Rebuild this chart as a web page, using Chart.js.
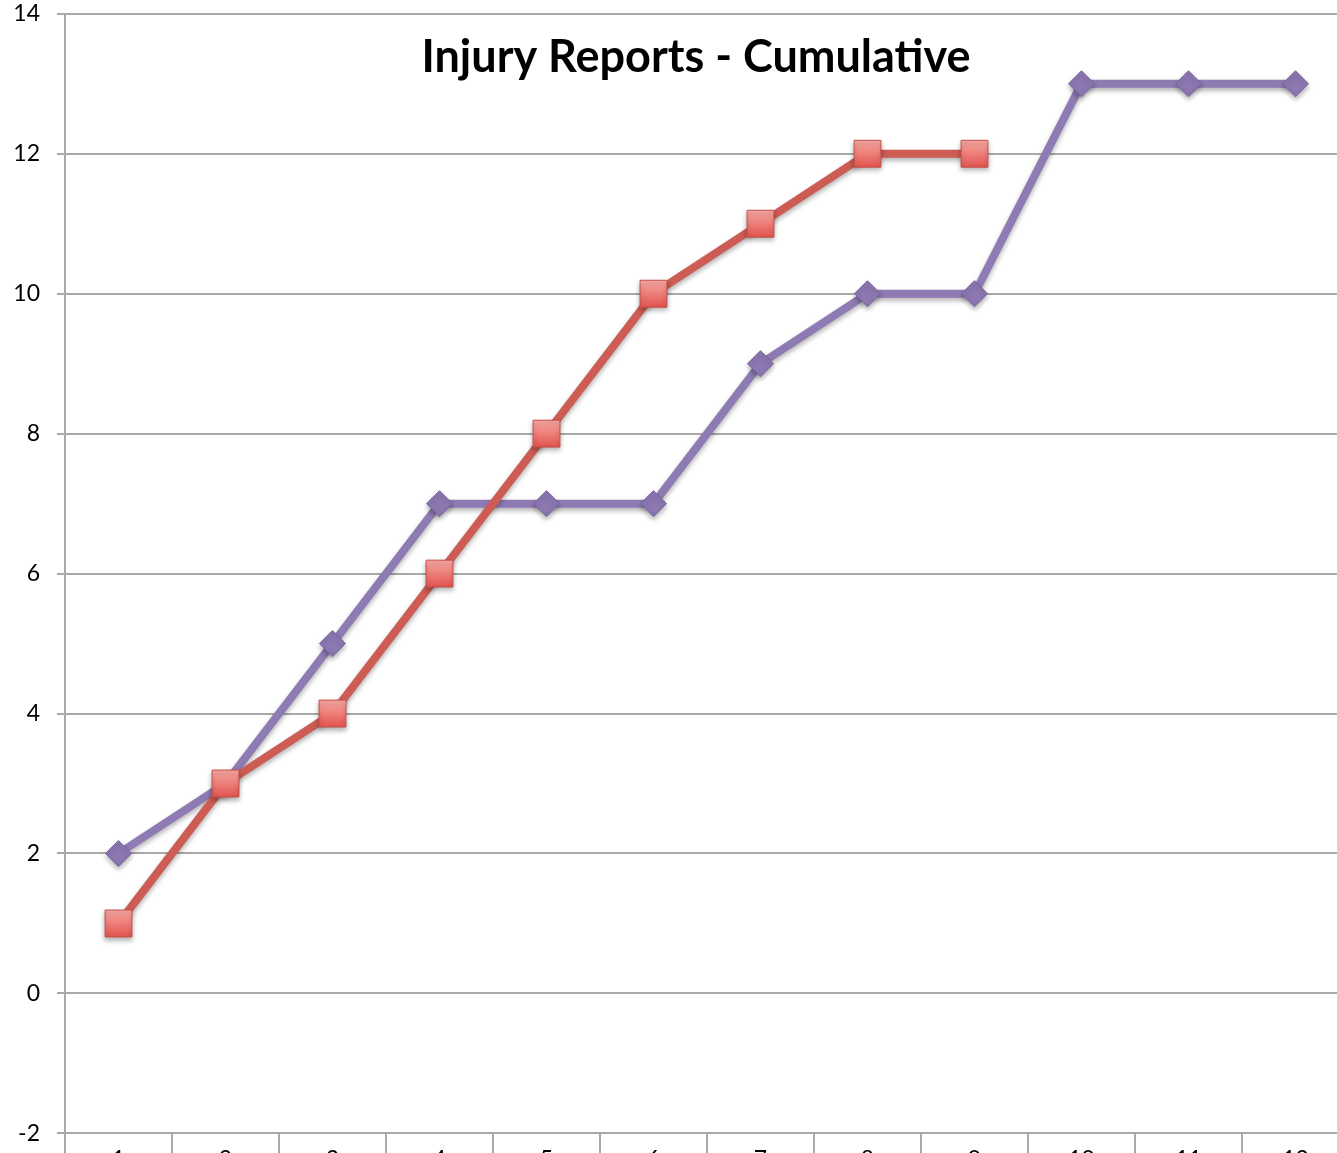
<!DOCTYPE html>
<html lang="en">
<head>
    <meta charset="UTF-8">
    <title>Injury Reports - Cumulative</title>
    <style>
        html, body {
            margin: 0;
            padding: 0;
            background: #fff;
            overflow: hidden;
        }
        #wrap {
            position: relative;
            width: 1337px;
            height: 1153px;
            overflow: hidden;
        }
        #injuryChart {
            position: absolute;
            left: 0;
            top: 0;
        }
    </style>
</head>
<body>
    <div id="wrap"><canvas id="injuryChart" width="1400" height="1200"></canvas></div>

    <script src="https://cdn.jsdelivr.net/npm/chart.js"></script>
    <script>
        const weeks = ['1', '2', '3', '4', '5', '6', '7', '8', '9', '10', '11', '12'];
        const redSeries = [1, 3, 4, 6, 8, 10, 11, 12, 12, null, null, null];
        const purpleSeries = [2, 3, 5, 7, 7, 7, 9, 10, 10, 13, 13, 13];
        const chartTitle = 'Injury Reports - Cumulative';

        const gridGray = '#a9a9a9';
        const labelFont = { family: 'Lato, "Open Sans", sans-serif', size: 23 };

        // the original is a cropped screenshot: plot area box on the page
        const plotLeft = 65, plotTop = 14, plotW = 1284, plotH = 1120;

        // title sits inside the plot area, so it's drawn by hand
        const titlePlugin = {
            id: 'insideTitle',
            afterDraw(chart) {
                const ctx = chart.ctx;
                const a = chart.chartArea;
                ctx.save();
                ctx.font = 'bold 45px Lato, "Open Sans", sans-serif';
                ctx.fillStyle = '#000';
                ctx.textAlign = 'center';
                ctx.textBaseline = 'alphabetic';
                ctx.fillText(chartTitle, a.left + 631, a.top + 58);
                ctx.restore();
            }
        };

        // soft drop shadow under lines and markers
        const shadowPlugin = {
            id: 'shadow',
            beforeDatasetDraw(chart) {
                const ctx = chart.ctx;
                ctx.save();
                ctx.shadowColor = 'rgba(0,0,0,0.3)';
                ctx.shadowBlur = 5;
                ctx.shadowOffsetY = 3;
            },
            afterDatasetDraw(chart) {
                chart.ctx.restore();
            }
        };

        // pinkish top-to-bottom shading on the square markers
        function squareFill(context) {
            const chart = context.chart;
            const y = chart.scales && chart.scales.y;
            if (!y || context.raw == null) return '#ef7d76';
            const py = y.getPixelForValue(context.raw);
            if (!isFinite(py)) return '#ef7d76';
            const g = chart.ctx.createLinearGradient(0, py - 13, 0, py + 13);
            g.addColorStop(0, '#f8a7a2');
            g.addColorStop(1, '#e3554f');
            return g;
        }

        const canvas = document.getElementById('injuryChart');
        const chart = new Chart(canvas.getContext('2d'), {
            type: 'line',
            data: {
                labels: weeks,
                datasets: [
                    {
                        label: 'Red',
                        data: redSeries,
                        borderColor: '#cd5c55',
                        borderWidth: 8,
                        pointStyle: 'rect',
                        pointRadius: 19,
                        pointBackgroundColor: squareFill,
                        pointBorderColor: '#c4504a',
                        pointBorderWidth: 1,
                        tension: 0,
                        spanGaps: false
                    },
                    {
                        label: 'Purple',
                        data: purpleSeries,
                        borderColor: '#8f7bb4',
                        borderWidth: 8,
                        pointStyle: 'rectRot',
                        pointRadius: 13,
                        pointBackgroundColor: '#8c77b1',
                        pointBorderColor: '#7a66a0',
                        pointBorderWidth: 1,
                        tension: 0
                    }
                ]
            },
            options: {
                responsive: false,
                maintainAspectRatio: false,
                animation: false,
                layout: { padding: 20 },
                plugins: {
                    legend: { display: false },
                    title: { display: false },
                    tooltip: { enabled: false }
                },
                scales: {
                    x: {
                        offset: true,
                        grid: {
                            offset: true,
                            drawOnChartArea: false,
                            color: gridGray,
                            lineWidth: 2,
                            tickLength: 30
                        },
                        border: { color: gridGray, width: 2 },
                        ticks: {
                            color: '#000',
                            font: labelFont,
                            padding: -18,
                            maxRotation: 0,
                            autoSkip: false
                        }
                    },
                    y: {
                        min: -2,
                        max: 14,
                        ticks: {
                            stepSize: 2,
                            color: '#000',
                            font: labelFont,
                            padding: 17
                        },
                        grid: {
                            color: gridGray,
                            lineWidth: 2,
                            tickLength: 8
                        },
                        border: { color: gridGray, width: 2 },
                        afterFit(scale) { scale.width = 65; }
                    }
                }
            },
            plugins: [shadowPlugin, titlePlugin]
        });

        // size the canvas so the plot box matches, then shift it into place
        for (let i = 0; i < 4; i++) {
            const a = chart.chartArea;
            const dw = plotW - (a.right - a.left);
            const dh = plotH - (a.bottom - a.top);
            if (Math.abs(dw) < 0.5 && Math.abs(dh) < 0.5) break;
            chart.resize(Math.round(chart.width + dw), Math.round(chart.height + dh));
        }
        const area = chart.chartArea;
        canvas.style.left = (plotLeft - area.left) + 'px';
        canvas.style.top = (plotTop - area.top) + 'px';
    </script>
</body>
</html>
